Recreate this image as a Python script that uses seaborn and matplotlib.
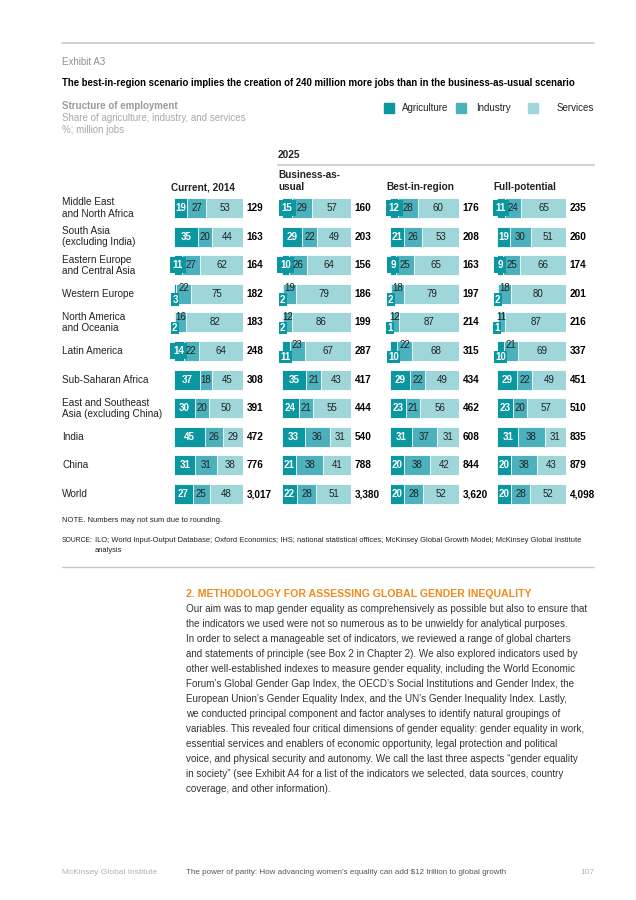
import numpy as np
import pandas as pd
import matplotlib
matplotlib.use("Agg")
import matplotlib.pyplot as plt
import matplotlib.transforms as mtrans
from matplotlib.patches import Rectangle
import seaborn as sns

sns.set_theme(style="white")
plt.rcParams['font.family'] = ['Liberation Sans', 'DejaVu Sans']

regions = ["Middle East\nand North Africa", "South Asia\n(excluding India)",
           "Eastern Europe\nand Central Asia", "Western Europe",
           "North America\nand Oceania", "Latin America", "Sub-Saharan Africa",
           "East and Southeast\nAsia (excluding China)", "India", "China", "World"]

scenarios = ["Current, 2014", "Business-as-\nusual", "Best-in-region", "Full-potential"]
sectors = ["Agriculture", "Industry", "Services"]

# shares in %, one list per scenario
agri_2014 = [19, 35, 11, 3, 2, 14, 37, 30, 45, 31, 27]
ind_2014 = [27, 20, 27, 22, 16, 22, 18, 20, 26, 31, 25]
serv_2014 = [53, 44, 62, 75, 82, 64, 45, 50, 29, 38, 48]
jobs_2014 = ["129", "163", "164", "182", "183", "248", "308", "391", "472", "776", "3,017"]

agri_bau = [15, 29, 10, 2, 2, 11, 35, 24, 33, 21, 22]
ind_bau = [29, 22, 26, 19, 12, 23, 21, 21, 36, 38, 28]
serv_bau = [57, 49, 64, 79, 86, 67, 43, 55, 31, 41, 51]
jobs_bau = ["160", "203", "156", "186", "199", "287", "417", "444", "540", "788", "3,380"]

agri_best = [12, 21, 9, 2, 1, 10, 29, 23, 31, 20, 20]
ind_best = [28, 26, 25, 18, 12, 22, 22, 21, 37, 38, 28]
serv_best = [60, 53, 65, 79, 87, 68, 49, 56, 31, 42, 52]
jobs_best = ["176", "208", "163", "197", "214", "315", "434", "462", "608", "844", "3,620"]

agri_full = [11, 19, 9, 2, 1, 10, 29, 23, 31, 20, 20]
ind_full = [24, 30, 25, 18, 11, 21, 22, 20, 38, 38, 28]
serv_full = [65, 51, 66, 80, 87, 69, 49, 57, 31, 43, 52]
jobs_full = ["235", "260", "174", "201", "216", "337", "451", "510", "835", "879", "4,098"]

columns = [(agri_2014, ind_2014, serv_2014, jobs_2014),
           (agri_bau, ind_bau, serv_bau, jobs_bau),
           (agri_best, ind_best, serv_best, jobs_best),
           (agri_full, ind_full, serv_full, jobs_full)]

c_agri, c_ind, c_serv = "#0a97a0", "#4bb1bd", "#9ed6da"
dark = "#222222"
grey = "#8e8e8e"

W, H = 636, 900
fig = plt.figure(figsize=(W / 100, H / 100), dpi=100)


def fx(x):
    return x / W


def fy(y):
    return 1 - y / H


def ftext(x, y, s, **kw):
    fig.text(fx(x), fy(y), s, **kw)


def hline(x0, x1, y, color, lw):
    fig.add_artist(plt.Line2D([fx(x0), fx(x1)], [fy(y), fy(y)], color=color, lw=lw,
                              transform=fig.transFigure))


# header
hline(62, 594, 43, "#c8c8c8", 1.2)
ftext(62, 62, "Exhibit A3", fontsize=7, color=grey, va="center")
ftext(62, 83, "The best-in-region scenario implies the creation of 240 million more jobs than in the business-as-usual scenario",
      fontsize=6.9, fontweight="bold", color="black", va="center")
ftext(62, 106, "Structure of employment", fontsize=7, color="#9a9a9a", fontweight="bold", va="center")
ftext(62, 118, "Share of agriculture, industry, and services", fontsize=7, color="#a8a8a8", va="center")
ftext(62, 130, "%; million jobs", fontsize=7, color="#a8a8a8", va="center")

# legend
for sx, tx, col, lab in [(384, 402, c_agri, sectors[0]), (456, 476, c_ind, sectors[1]),
                         (528, 557, c_serv, sectors[2])]:
    fig.add_artist(Rectangle((fx(sx), fy(113)), fx(10), 10 / H, color=col,
                             transform=fig.transFigure))
    ftext(tx, 108, lab, fontsize=7, color=dark, va="center")

ftext(278, 155, "2025", fontsize=7.2, fontweight="bold", color=dark, va="center")
hline(278, 594, 165, "#d4d4d4", 1.6)

bar_left = [174, 282, 390, 497]
head_x = [171, 278, 386, 493]
for hx, name in zip(head_x, scenarios):
    lines = name.split("\n")
    for j, part in enumerate(lines):
        ftext(hx, 187 - 12 * (len(lines) - 1 - j), part, fontsize=7.2,
              fontweight="bold", color=dark, va="center")

row_step = 28.6
top = 208 - row_step / 2
n = len(regions)

for k, (ag, ind, sv, tot) in enumerate(columns):
    ag = np.array(ag, float)
    ind = np.array(ind, float)
    sv = np.array(sv, float)
    scale = 100 / (ag + ind + sv)
    a, b, c = ag * scale, ind * scale, sv * scale
    df = pd.DataFrame({"region": regions, "s1": a, "s2": a + b, "s3": a + b + c})
    ax = fig.add_axes([fx(bar_left[k]), fy(top + row_step * n), fx(69), row_step * n / H])
    for col, colour in [("s3", c_serv), ("s2", c_ind), ("s1", c_agri)]:
        sns.barplot(data=df, x=col, y="region", color=colour, orient="h", width=0.7,
                    edgecolor="white", linewidth=0.6, saturation=1, ax=ax)
    ax.set_xlim(0, 100)
    ax.set_ylim(n - 0.5, -0.5)
    ax.axis("off")

    for i in range(n):
        stacked = ag[i] <= 3 or (ag[i] <= 11 and ind[i] <= 23)
        small = ag[i] < 16
        if stacked:
            box = dict(boxstyle="square,pad=0.12", fc=c_agri, ec="none")
        elif small:
            box = dict(boxstyle="square,pad=0.32", fc=c_agri, ec="none")
        else:
            box = None
        ya = i + 0.2 if stacked else i
        yi = i - 0.2 if stacked else i
        ax.text(a[i] / 2, ya, f"{int(ag[i])}", ha="center", va="center", fontsize=7,
                fontweight="bold", color="white", bbox=box, clip_on=False)
        ax.text(a[i] + b[i] / 2, yi, f"{int(ind[i])}", ha="center", va="center",
                fontsize=7, color=dark)
        ax.text(a[i] + b[i] + c[i] / 2, i, f"{int(sv[i])}", ha="center", va="center",
                fontsize=7, color=dark)
        ax.text(105.5, i, tot[i], ha="left", va="center", fontsize=7.2,
                fontweight="bold", color="black", clip_on=False)

    if k == 0:
        tr = mtrans.blended_transform_factory(fig.transFigure, ax.transData)
        for i, r in enumerate(regions):
            ax.text(fx(62), i, r, transform=tr, ha="left", va="center", fontsize=7.2,
                    color=dark, linespacing=1.15)

# notes
ftext(62, 521, "NOTE. Numbers may not sum due to rounding.", fontsize=5.5, color=dark, va="center")
ftext(62, 540, "SOURCE:", fontsize=4.9, color=dark, va="center")
ftext(95, 540, "ILO; World Input-Output Database; Oxford Economics; IHS; national statistical offices; "
      "McKinsey Global Growth Model; McKinsey Global Institute", fontsize=5.4, color=dark, va="center")
ftext(95, 551, "analysis", fontsize=5.4, color=dark, va="center")
hline(62, 594, 567, "#c8c8c8", 1.0)

# body text
ftext(186, 594, "2. METHODOLOGY FOR ASSESSING GLOBAL GENDER INEQUALITY", fontsize=7.6,
      fontweight="bold", color="#f08a1c", va="center")
body = [
    "Our aim was to map gender equality as comprehensively as possible but also to ensure that",
    "the indicators we used were not so numerous as to be unwieldy for analytical purposes.",
    "In order to select a manageable set of indicators, we reviewed a range of global charters",
    "and statements of principle (see Box 2 in Chapter 2). We also explored indicators used by",
    "other well-established indexes to measure gender equality, including the World Economic",
    "Forum\u2019s Global Gender Gap Index, the OECD\u2019s Social Institutions and Gender Index, the",
    "European Union\u2019s Gender Equality Index, and the UN\u2019s Gender Inequality Index. Lastly,",
    "we conducted principal component and factor analyses to identify natural groupings of",
    "variables. This revealed four critical dimensions of gender equality: gender equality in work,",
    "essential services and enablers of economic opportunity, legal protection and political",
    "voice, and physical security and autonomy. We call the last three aspects \u201cgender equality",
    "in society\u201d (see Exhibit A4 for a list of the indicators we selected, data sources, country",
    "coverage, and other information).",
]
for j, line in enumerate(body):
    ftext(186, 609 + 15 * j, line, fontsize=7.15, color="#333333", va="center")

# footer
ftext(62, 873, "McKinsey Global Institute", fontsize=6, color="#b0b0b0", va="center")
ftext(186, 873, "The power of parity: How advancing women\u2019s equality can add $12 trillion to global growth",
      fontsize=5.75, color="#555555", va="center")
ftext(594, 873, "107", fontsize=6, color="#b0b0b0", va="center", ha="right")

fig.savefig("out.png", dpi=100, facecolor="white")
